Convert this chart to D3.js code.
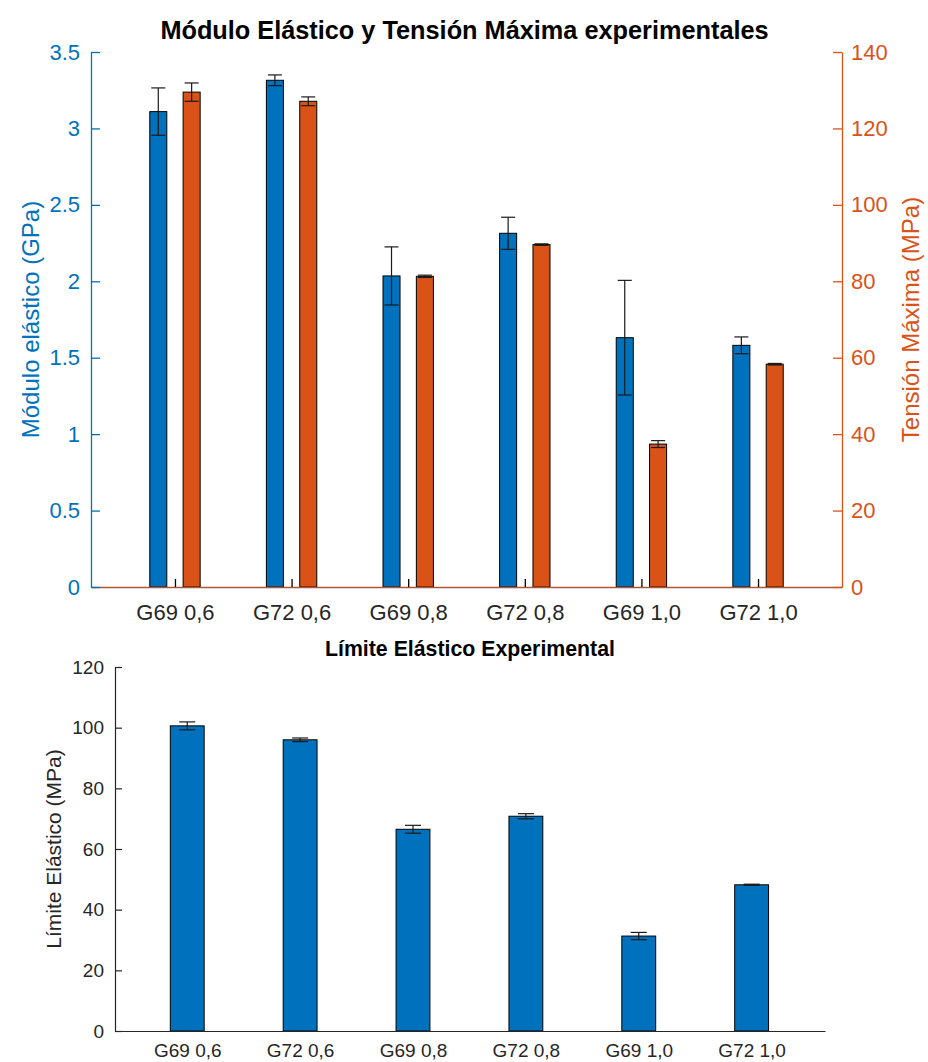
<!DOCTYPE html>
<html>
<head>
<meta charset="utf-8">
<script src="https://cdn.jsdelivr.net/npm/d3@7"></script>
<style>
  html, body { margin: 0; padding: 0; background: #fff; }
  svg { display: block; font-family: "Liberation Sans", Arial, Helvetica, sans-serif; }
</style>
</head>
<body>
<svg id="chart" width="928" height="1062"></svg>
<script>
// ---------- data ----------
const categories = ["G69 0,6", "G72 0,6", "G69 0,8", "G72 0,8", "G69 1,0", "G72 1,0"];
const moduloElastico = [3.11, 3.315, 2.035, 2.314, 1.631, 1.581];
const moduloErr      = [0.155, 0.035, 0.19, 0.105, 0.375, 0.055];
const tensionMaxima  = [129.5, 127.1, 81.3, 89.6, 37.4, 58.3];
const tensionErr     = [2.4, 1.15, 0.3, 0.2, 0.9, 0.2];
const limiteElastico = [100.6, 96.0, 66.5, 70.8, 31.3, 48.2];
const limiteErr      = [1.3, 0.6, 1.3, 0.85, 1.2, 0.2];
const leftTicks  = [0, 0.5, 1, 1.5, 2, 2.5, 3, 3.5];
const rightTicks = [0, 20, 40, 60, 80, 100, 120, 140];
const bottomTicks = [0, 20, 40, 60, 80, 100, 120];

const BLUE = "#0072BD", ORANGE = "#D95319", DARK = "#262626";
const svg = d3.select("#chart");

// ---------- top chart ----------
const T = { left: 91, right: 842, top: 52, bottom: 587 };
const xT = d3.scaleLinear().domain([0.28, 6.72]).range([T.left, T.right]);
const yL = d3.scaleLinear().domain([0, 3.5]).range([T.bottom, T.top]);
const yR = d3.scaleLinear().domain([0, 140]).range([T.bottom, T.top]);
const barW = 0.146, off = 0.143;
const idx = d3.range(1, categories.length + 1);

const topG = svg.append("g");

function bars(g, x, y, vals, errs, shift, w, color, cap) {
  const data = vals.map((v, i) => ({ i: i + 1, v, e: errs[i] }));
  g.append("g").selectAll("rect").data(data).join("rect")
    .attr("x", d => x(d.i + shift - w / 2))
    .attr("width", d => x(d.i + shift + w / 2) - x(d.i + shift - w / 2))
    .attr("y", d => y(d.v))
    .attr("height", d => y(0) - y(d.v))
    .attr("fill", color).attr("stroke", "#000").attr("stroke-width", 1);
  const eg = g.append("g").attr("stroke", "#1a1a1a").attr("stroke-width", 1.2);
  eg.selectAll("line.v").data(data).join("line").attr("class", "v")
    .attr("x1", d => x(d.i + shift)).attr("x2", d => x(d.i + shift))
    .attr("y1", d => y(d.v + d.e)).attr("y2", d => y(d.v - d.e));
  eg.selectAll("line.t").data(data).join("line").attr("class", "t")
    .attr("x1", d => x(d.i + shift) - cap).attr("x2", d => x(d.i + shift) + cap)
    .attr("y1", d => y(d.v + d.e)).attr("y2", d => y(d.v + d.e));
  eg.selectAll("line.b").data(data).join("line").attr("class", "b")
    .attr("x1", d => x(d.i + shift) - cap).attr("x2", d => x(d.i + shift) + cap)
    .attr("y1", d => y(d.v - d.e)).attr("y2", d => y(d.v - d.e));
}

bars(topG, xT, yL, moduloElastico, moduloErr, -off, barW, BLUE, 7);
bars(topG, xT, yR, tensionMaxima, tensionErr, off, barW, ORANGE, 7);

// x axis (top chart)
const xAxT = topG.append("g").attr("transform", `translate(0,${T.bottom})`)
  .call(d3.axisBottom(xT).tickValues(idx).tickFormat(d => categories[d - 1])
    .tickSizeInner(-8).tickSizeOuter(0).tickPadding(17));
xAxT.select(".domain").attr("stroke", "#a9583a").attr("stroke-width", 1.3);
xAxT.selectAll(".tick line").attr("stroke", "#000").attr("stroke-width", 1.3);
xAxT.selectAll("text").attr("fill", DARK).attr("font-size", 22).attr("font-family", null);

// left axis
const lAx = topG.append("g").attr("transform", `translate(${T.left},0)`)
  .call(d3.axisLeft(yL).tickValues(leftTicks).tickFormat(d => String(d))
    .tickSizeInner(-9).tickSizeOuter(0).tickPadding(11));
lAx.select(".domain").attr("stroke", BLUE).attr("stroke-width", 1.3);
lAx.selectAll(".tick line").attr("stroke", BLUE).attr("stroke-width", 1.3);
lAx.selectAll("text").attr("fill", BLUE).attr("font-size", 22).attr("font-family", null);

// right axis
const rAx = topG.append("g").attr("transform", `translate(${T.right},0)`)
  .call(d3.axisRight(yR).tickValues(rightTicks).tickFormat(d => String(d))
    .tickSizeInner(-9).tickSizeOuter(0).tickPadding(9));
rAx.select(".domain").attr("stroke", ORANGE).attr("stroke-width", 1.3);
rAx.selectAll(".tick line").attr("stroke", ORANGE).attr("stroke-width", 1.3);
rAx.selectAll("text").attr("fill", ORANGE).attr("font-size", 22).attr("font-family", null);

// labels
topG.append("text").attr("x", (T.left + T.right) / 2 - 2).attr("y", 39)
  .attr("text-anchor", "middle").attr("font-weight", "bold").attr("font-size", 25.3).attr("fill", "#000")
  .text("Módulo Elástico y Tensión Máxima experimentales");
topG.append("text").attr("transform", `translate(39,${(T.top + T.bottom) / 2}) rotate(-90)`)
  .attr("text-anchor", "middle").attr("font-size", 24).attr("fill", BLUE)
  .text("Módulo elástico (GPa)");
topG.append("text").attr("transform", `translate(919,${(T.top + T.bottom) / 2}) rotate(-90)`)
  .attr("text-anchor", "middle").attr("font-size", 24).attr("fill", ORANGE)
  .text("Tensión Máxima (MPa)");

// ---------- bottom chart ----------
const B = { left: 115, right: 825, top: 667, bottom: 1031 };
const xB = d3.scaleLinear().domain([0.36, 6.65]).range([B.left, B.right]);
const yB = d3.scaleLinear().domain([0, 120]).range([B.bottom, B.top]);
const botG = svg.append("g");

bars(botG, xB, yB, limiteElastico, limiteErr, 0, 0.3, BLUE, 8);

const xAxB = botG.append("g").attr("transform", `translate(0,${B.bottom})`)
  .call(d3.axisBottom(xB).tickValues(idx).tickFormat(d => categories[d - 1])
    .tickSizeInner(0).tickSizeOuter(0).tickPadding(13));
xAxB.select(".domain").attr("stroke", DARK).attr("stroke-width", 1.2);
xAxB.selectAll("text").attr("fill", DARK).attr("font-size", 19).attr("font-family", null);

const yAxB = botG.append("g").attr("transform", `translate(${B.left},0)`)
  .call(d3.axisLeft(yB).tickValues(bottomTicks).tickFormat(d => String(d))
    .tickSizeInner(-7).tickSizeOuter(0).tickPadding(11));
yAxB.select(".domain").attr("stroke", DARK).attr("stroke-width", 1.2);
yAxB.selectAll(".tick line").attr("stroke", DARK).attr("stroke-width", 1.2);
yAxB.selectAll("text").attr("fill", DARK).attr("font-size", 19).attr("font-family", null);

botG.append("text").attr("x", (B.left + B.right) / 2).attr("y", 656)
  .attr("text-anchor", "middle").attr("font-weight", "bold").attr("font-size", 21.3).attr("fill", "#000")
  .text("Límite Elástico Experimental");
botG.append("text").attr("transform", `translate(61,${(B.top + B.bottom) / 2}) rotate(-90)`)
  .attr("text-anchor", "middle").attr("font-size", 21).attr("fill", DARK)
  .text("Límite Elástico (MPa)");
</script>
</body>
</html>
